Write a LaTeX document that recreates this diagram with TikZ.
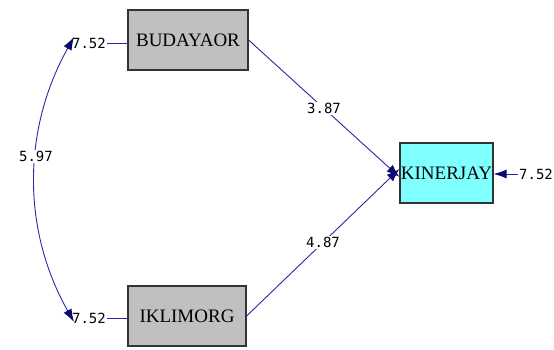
\documentclass[tikz,border=0pt]{standalone}
\usepackage{fontspec}
\setmainfont{Liberation Serif}
\newfontfamily\numfont{DejaVu Sans Mono}
\usetikzlibrary{arrows.meta}
\definecolor{pathblue}{RGB}{40,40,160}
\definecolor{tipblue}{RGB}{10,10,110}
\definecolor{boxgray}{RGB}{192,192,192}
\definecolor{boxcyan}{RGB}{128,255,255}
\tikzset{
  varbox/.style={draw=black!80, line width=1.2pt, minimum width=#1, minimum height=60pt, inner sep=0pt, font=\fontsize{19}{19}\selectfont},
  num/.style={font=\numfont\fontsize{14}{14}\selectfont, inner sep=1pt, fill=white},
  conn/.style={draw=pathblue, line width=0.9pt},
  headtip/.tip={Latex[length=13pt,width=9pt,fill=tipblue,color=tipblue]},
  tip/.style={-headtip},
}
\begin{document}
\begin{tikzpicture}[x=1pt,y=-1pt]
\useasboundingbox (0,0) rectangle (554,350);
% observed variables
\node[varbox=120pt, fill=boxgray] (bud) at (188,40) {BUDAYAOR};
\node[varbox=118pt, fill=boxgray] (ikl) at (187,316) {IKLIMORG};
\node[varbox=93pt, fill=boxcyan] (kin) at (446.5,173) {KINERJAY};
% error variances
\node[num, fill=none] (e1) at (89,43) {7.52};
\node[num, fill=none] (e2) at (89,318) {7.52};
\node[num, fill=none] (e3) at (536,174) {7.52};
\draw[conn] (e1.east) -- (bud.west |- e1.east);
\draw[conn] (e2.east) -- (ikl.west |- e2.east);
\draw[conn, tip] (e3.west) -- (kin.east |- e3.west);
% covariance between the exogenous variables
\coordinate (c1) at (74,37);
\coordinate (c2) at (74,322);
\draw[conn, headtip-headtip]
  (c1) .. controls (22,130) and (22,230) .. (c2)
  node[num, pos=0.42] (cov) {5.97};
% structural paths
\draw[conn, tip] (bud.east) -- node[num, pos=0.5] (p1) {3.87} ([yshift=-4pt]kin.west);
\draw[conn, tip] (ikl.east) -- node[num, pos=0.5] (p2) {4.87} ([yshift=4pt]kin.west);
\end{tikzpicture}
\end{document}
